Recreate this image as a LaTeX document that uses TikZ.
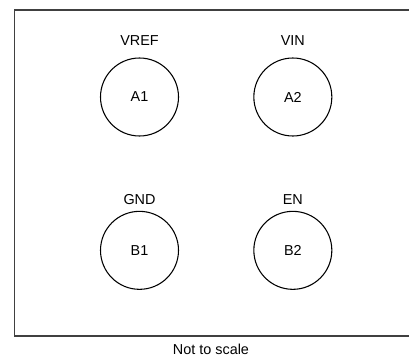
\documentclass[tikz,border=0pt]{standalone}
\usepackage{fontspec}
\setmainfont{Liberation Sans}
\usetikzlibrary{positioning}

\begin{document}
\begin{tikzpicture}[x=0.75pt, y=-0.75pt, node distance=115pt,
	ball/.style={circle,draw,line width=0.8pt,minimum size=58.5pt,inner sep=0pt,font=\fontsize{10.8}{12}\selectfont},
	pin name/.style={inner sep=0pt,font=\fontsize{10.8}{12}\selectfont}]
	\useasboundingbox (0,0) rectangle (409,357);
	
	% outline of the package, cut off on the right
	\clip (0,0) rectangle (409,357);
	\draw[black!75, line width=0.8pt] (420,10) -- (14.5,10) -- (14.5,336) -- (420,336);
	
	\node[ball] (a1) at (139.5,97) {A1};
	\node[ball] (a2) [right of=a1] {A2};
	\node[ball] (b1) [below of=a1] {B1};
	\node[ball] (b2) [right of=b1] {B2};
	
	\node[pin name] (vref) [above of=a1, node distance=42pt] {VREF};
	\node[pin name] (vin) [above of=a2, node distance=42pt] {VIN};
	\node[pin name] (gnd) [above of=b1, node distance=38pt] {GND};
	\node[pin name] (en) [above of=b2, node distance=38pt] {EN};
	
	\node[pin name] (note) at (211,349) {Not to scale};
\end{tikzpicture}
\end{document}
